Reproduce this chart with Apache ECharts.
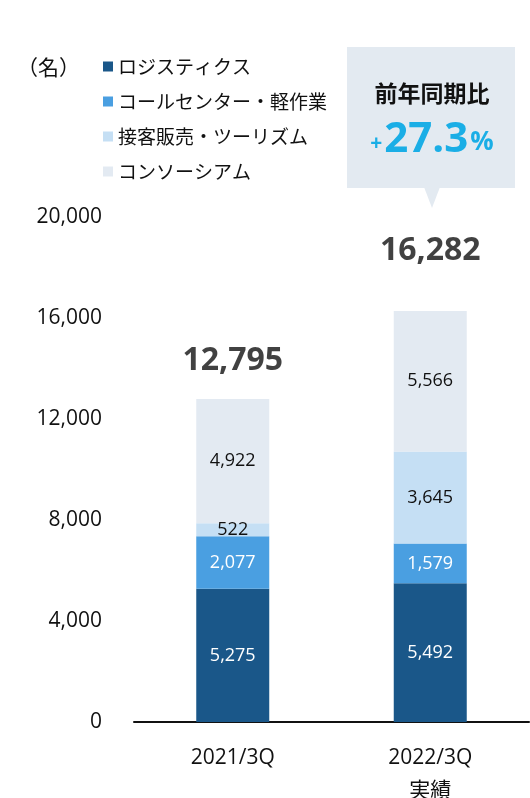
<!DOCTYPE html>
<html>
<head>
<meta charset="utf-8">
<script src="https://cdn.jsdelivr.net/npm/echarts@6/dist/echarts.min.js"></script>
<style>
html,body{margin:0;padding:0;background:#fff;}
#chart{width:530px;height:798px;}
</style>
</head>
<body>
<div id="chart"></div>
<script>
var categories = ['2021/3Q', '2022/3Q\n実績'];
var seriesNames = ['ロジスティクス', 'コールセンター・軽作業', '接客販売・ツーリズム', 'コンソーシアム'];
var logistics = [5275, 5492];
var callCenter = [2077, 1579];
var service = [522, 3645];
var consortium = [4922, 5566];
var totals = [12795, 16282];
var yTicks = [0, 4000, 8000, 12000, 16000, 20000];
var yoyText = '27.3';

var FONT = '"Noto Sans CJK JP", "Noto Sans", sans-serif';
var NUMFONT = '"Open Sans", "Noto Sans CJK JP", sans-serif';
var colors = ['#1a5789', '#4a9fe1', '#c5dff4', '#e3eaf2'];
var labelColors = ['#ffffff', '#ffffff', '#111111', '#111111'];
var values = [logistics, callCenter, service, consortium];

function fmt(v){ return v.toLocaleString('en-US'); }

var series = values.map(function(arr, i){
  return {
    name: seriesNames[i],
    type: 'bar',
    stack: 'total',
    barWidth: 73,
    data: arr,
    itemStyle: {color: colors[i]},
    label: {
      show: true,
      position: 'inside',
      color: labelColors[i],
      fontFamily: NUMFONT,
      fontSize: 18,
      formatter: function(p){ return fmt(p.value); }
    },
    emphasis: {disabled: true}
  };
});

var totalGaps = [22, 44];
series.push({
  type: 'scatter',
  symbolSize: 0,
  data: totals.map(function(t, i){
    return {value: t, label: {distance: totalGaps[i]}};
  }),
  label: {
    show: true,
    position: 'top',
    color: '#111',
    fontFamily: NUMFONT,
    fontWeight: 'bold',
    fontSize: 32,
    formatter: function(p){ return fmt(p.value); }
  },
  z: 10,
  silent: true
});

var chart = echarts.init(document.getElementById('chart'), null, {renderer: 'canvas'});
chart.setOption({
  animation: false,
  backgroundColor: '#fff',
  grid: {left: 134, right: 1, top: 217, bottom: 76, containLabel: false, outerBoundsMode: 'none'},
  legend: {
    data: seriesNames,
    orient: 'vertical',
    left: 98,
    top: 52,
    icon: 'rect',
    itemWidth: 10,
    itemHeight: 10,
    itemGap: 16,
    textStyle: {fontFamily: FONT, fontSize: 19, color: '#111'},
    selectedMode: false
  },
  xAxis: {
    type: 'category',
    data: categories,
    axisTick: {show: false},
    axisLine: {lineStyle: {color: '#111', width: 2}},
    axisLabel: {fontFamily: NUMFONT, fontSize: 21, color: '#111', margin: 20, lineHeight: 33}
  },
  yAxis: {
    type: 'value',
    min: yTicks[0],
    max: yTicks[yTicks.length - 1],
    interval: yTicks[1] - yTicks[0],
    splitLine: {show: false},
    axisLine: {show: false},
    axisTick: {show: false},
    axisLabel: {fontFamily: NUMFONT, fontSize: 21, color: '#111', margin: 32, formatter: function(v){ return fmt(v); }}
  },
  graphic: [
    {type: 'text', x: 17, y: 67, style: {text: '（名）', fontFamily: FONT, fontSize: 21, fill: '#111', verticalAlign: 'middle'}},
    {type: 'rect', shape: {x: 347, y: 47, width: 168, height: 141}, style: {fill: '#e3eaf1'}},
    {type: 'polygon', shape: {points: [[424, 187], [440, 187], [432, 208]]}, style: {fill: '#e3eaf1'}},
    {type: 'text', x: 432, y: 93, style: {text: '前年同期比', fontFamily: FONT, fontSize: 23, fontWeight: 'bold', fill: '#111', align: 'center', verticalAlign: 'middle'}},
    {type: 'text', x: 432, y: 140, style: {
      text: '{p|+}{b|' + yoyText + '}{s|%}',
      align: 'center', verticalAlign: 'middle',
      rich: {
        p: {fontFamily: NUMFONT, fontSize: 21, fontWeight: 'bold', fill: '#1aaee6', padding: [8, 2, 0, 0]},
        s: {fontFamily: NUMFONT, fontSize: 26, fontWeight: 'bold', fill: '#1aaee6', padding: [6, 0, 0, 2]},
        b: {fontFamily: NUMFONT, fontSize: 42, fontWeight: 'bold', fill: '#1aaee6'}
      }
    }}
  ],
  series: series
});
</script>
</body>
</html>
